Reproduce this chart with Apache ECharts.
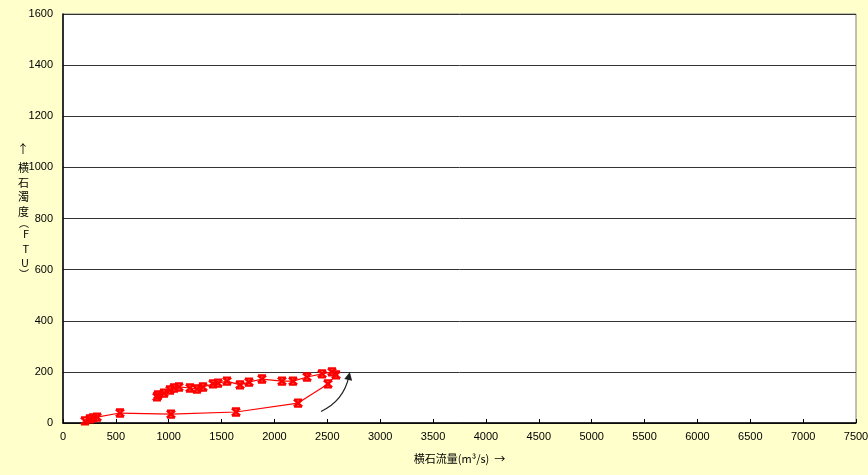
<!DOCTYPE html>
<html>
<head>
<meta charset="utf-8">
<script src="https://cdn.jsdelivr.net/npm/echarts@6/dist/echarts.min.js"></script>
<style>
  html, body { margin: 0; padding: 0; background: #ffffcc; }
  #chart { width: 868px; height: 475px; }
</style>
</head>
<body>
<div id="chart"></div>
<script>
// 横石 流量 (m3/s) - 時系列順 (上昇期 → 下降期)
const flow = [208, 255, 284, 322, 539, 1021, 1636, 2223, 2506, 2582,
  2544, 2450, 2308, 2175, 2071, 1882, 1759, 1674, 1551, 1466,
  1419, 1324, 1267, 1201, 1097, 1050, 1012, 955, 899, 889]
// 横石 濁度 (FTU)
const turbidity = [8, 16, 20, 23, 39, 35, 43, 78, 153, 188,
  200, 192, 180, 164, 164, 172, 160, 149, 164, 156,
  153, 141, 133, 137, 141, 137, 129, 117, 110, 102]
// 矢印 (始点, 終点)
const arrowFrom = [2440, 45]
const arrowTo = [2705, 184]

const xTicks = { min: 0, max: 7500, interval: 500 }
const yTicks = { min: 0, max: 1600, interval: 200 }

const points = flow.map((f, i) => [f, turbidity[i]])

const myChart = echarts.init(document.getElementById('chart'))
myChart.setOption({
  backgroundColor: '#ffffcc',
  animation: false,
  textStyle: { fontFamily: 'Liberation Sans, Arial, sans-serif' },
  grid: {
    left: 63,
    right: 12,
    top: 14,
    bottom: 52,
    outerBoundsMode: 'none',
    containLabel: false,
    show: true,
    backgroundColor: '#ffffff',
    borderColor: '#808080',
    borderWidth: 1,
  },
  xAxis: {
    type: 'value',
    min: xTicks.min,
    max: xTicks.max,
    interval: xTicks.interval,
    name: '横石流量(m³/s)  →',
    nameLocation: 'middle',
    nameGap: 30,
    nameMoveOverlap: false,
    nameTextStyle: { fontSize: 11, color: '#000', fontFamily: 'Noto Sans CJK JP, sans-serif' },
    axisLine: { lineStyle: { color: '#000', width: 1.5 } },
    axisTick: { inside: true, length: 4, lineStyle: { color: '#000' } },
    axisLabel: { fontSize: 11, color: '#000', margin: 8, formatter: v => String(v) },
    splitLine: { show: false },
  },
  yAxis: {
    type: 'value',
    min: yTicks.min,
    max: yTicks.max,
    interval: yTicks.interval,
    name: '{a|↑}\n横\n石\n濁\n度\n{p|︵}\nF\nT\nU\n{p|︶}',
    nameLocation: 'middle',
    nameRotate: 0,
    nameGap: 34,
    nameMoveOverlap: false,
    nameTextStyle: {
      fontSize: 11,
      color: '#000',
      lineHeight: 14.5,
      padding: [0, 0, 20, 0],
      fontFamily: 'Noto Sans CJK JP, sans-serif',
      rich: {
        a: { fontSize: 12, lineHeight: 22 },
        p: { fontSize: 10, lineHeight: 8 },
      },
    },
    axisLine: { show: true, lineStyle: { color: '#000', width: 1.5 } },
    axisTick: { show: false },
    axisLabel: { fontSize: 11, color: '#000', margin: 10, formatter: v => String(v) },
    splitLine: { lineStyle: { color: '#333', width: 1 } },
  },
  series: [
    {
      type: 'line',
      data: points,
      symbol: 'path://M0,0 L10,0 M0,10 L10,10 M0,0 L10,10 M10,0 L0,10',
      symbolSize: [8, 7],
      lineStyle: { color: '#ff0000', width: 1.2 },
      itemStyle: { color: '#ff0000', borderColor: '#ff0000', borderWidth: 2.5 },
    },
    {
      type: 'lines',
      coordinateSystem: 'cartesian2d',
      symbol: ['none', 'triangle'],
      symbolSize: 8,
      lineStyle: { color: '#222', width: 1.2, curveness: -0.25, opacity: 1 },
      data: [{ coords: [arrowFrom, arrowTo] }],
    },
  ],
})
</script>
</body>
</html>
